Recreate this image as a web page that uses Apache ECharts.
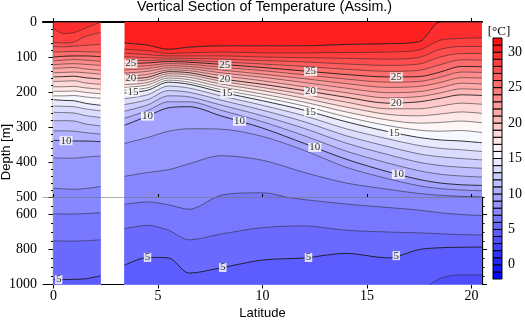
<!DOCTYPE html>
<html><head><meta charset="utf-8">
<script src="https://cdn.jsdelivr.net/npm/echarts@6/dist/echarts.min.js"></script>
<style>html,body{margin:0;padding:0;background:#fff}#c{width:525px;height:321px}</style>
</head><body><div id="c"></div>
<script>
// Latitude nodes of the section (missing data between 2.25 and 3.4)
const lats = [0, 0.5, 1, 1.5, 2.25, 3.4, 4.5, 5.5, 6.5, 8, 10, 12, 14, 16, 17.5, 18.5, 19.5, 20.5];
const gapLat = 2.8;
// Depth [m] of each isotherm at the latitude nodes
const iso30 = [0,0,0,0,0, 60,66,78,72,68,68,68,64,62,56,0,0,0];
const iso29 = [19,33,30,18,0, 78,82,90,88,86,88,88,87,86,80,52,47,45];
const iso28 = [58,60,57,42,30, 89,93,97,97,97,100,102,104,106,101,78,70,70];
const iso27 = [70,71,69,67,64, 99,102,103,104,106,110,114,120,124,120,100,90,90];
const iso26 = [86,85,84,85,86, 109,110,108,110,114,120,127,135,141,138,122,108,109];
const iso25 = [100,98,97,97,99, 119,117,113,115,121,130,140,150,157,156,143,127,128];
const iso24 = [111,109,107,109,112, 128,125,119,121,129,139,151,163,172,170,158,143,144];
const iso23 = [122,120,119,121,124, 137,133,125,127,137,149,162,176,187,184,173,159,160];
const iso22 = [133,131,130,134,138, 146,141,131,133,145,158,173,189,202,199,188,175,177];
const iso21 = [145,144,143,145,149, 155,150,137,139,153,168,185,202,217,213,203,191,193];
const iso20 = [157,156,155,159,163, 163,158,142,145,162,178,196,215,232,228,218,208,210];
const iso19 = [170,169,168,174,178, 171,165,148,151,169,187,207,229,248,248,240,232,235];
const iso18 = [185,185,184,188,192, 179,173,154,158,177,196,218,243,264,268,263,257,261];
const iso17 = [198,198,197,201,205, 187,180,160,165,185,206,229,257,280,289,287,283,288];
const iso16 = [211,211,210,214,218, 195,188,166,172,193,215,240,271,296,309,312,310,316];
const iso15 = [222,224,225,232,238, 203,195,172,178,200,225,252,285,313,330,337,340,345];
const iso14 = [240,241,242,248,254, 219,208,183,189,211,238,268,305,334,353,361,365,370];
const iso13 = [258,259,260,267,273, 236,222,196,201,223,252,285,325,356,377,385,390,394];
const iso12 = [282,282,283,291,297, 255,237,211,214,237,268,304,346,379,401,410,415,418];
const iso11 = [311,311,312,316,320, 275,253,228,228,252,285,325,369,403,425,435,440,443];
const iso10 = [338,339,340,340,342, 295,269,245,242,268,303,347,392,428,450,460,465,467];
const iso9  = [388,389,389,386,383, 347,330,312,305,306,327,367,415,448,468,476,480,482];
const iso8  = [475,477,478,476,470, 441,430,422,405,382,395,430,460,478,490,495,498,500];
const iso7  = [596,597,597,595,590, 542,528,545,570,495,488,515,540,560,575,590,600,606];
const iso6  = [750,752,752,750,745, 681,662,690,745,712,675,665,690,700,705,710,715,717];
const iso5  = [972,972,970,968,950, 890,845,848,935,905,860,848,822,848,800,790,787,786];
const iso4  = [1100,1100,1100,1100,1100, 1100,1100,1100,1100,1100,1100,1100,1100,1100,1040,965,945,946];

// Contour label latitudes
const lab25 = [3.7, 8.2, 12.3, 16.4];
const lab20 = [3.7, 8.2, 12.3, 16.4];
const lab15 = [3.8, 8.3, 12.3, 16.3];
const lab10 = [0.6, 4.5, 8.9, 12.5, 16.5];
const lab5  = [0.25, 4.5, 8.1, 12.2, 16.4];

// Axis ticks / labels
const latTicks = [0, 5, 10, 15, 20];
const depthTicksLower = [600, 800, 1000];
const cbTicks = [0, 5, 10, 15, 20, 25, 30];
const cbBounds = [-2,-1,0,1,2,3,4,5,6,7,8,9,10,11,12,13,14,15,16,17,18,19,20,21,22,23,24,25,26,27,28,29,30,31];

const isoLevels = [30,29,28,27,26,25,24,23,22,21,20,19,18,17,16,15,14,13,12,11,10,9,8,7,6,5,4];
const isoDepth = {30:iso30,29:iso29,28:iso28,27:iso27,26:iso26,25:iso25,24:iso24,23:iso23,22:iso22,21:iso21,20:iso20,19:iso19,18:iso18,17:iso17,16:iso16,15:iso15,14:iso14,13:iso13,12:iso12,11:iso11,10:iso10,9:iso9,8:iso8,7:iso7,6:iso6,5:iso5,4:iso4};
const labels = {25:lab25,20:lab20,15:lab15,10:lab10,5:lab5};

function tempColor(t){
  let r,g,b;
  if (t >= 16){ const f = Math.min(1,(t-16)/16.5); r=255; g=b=Math.round(255*(1-f)); }
  else { const f = Math.min(1,(16-t)/18); r=g=Math.round(255*(1-f)); b=255; }
  return 'rgb('+r+','+g+','+b+')';
}
function seriesData(arr){
  const out=[];
  for(let i=0;i<lats.length;i++){ out.push([lats[i], arr[i]]); if(lats[i]<gapLat && lats[i+1]>gapLat) out.push([gapLat,'-']); }
  return out;
}
function depthAt(arr, lat){
  for(let i=0;i<lats.length-1;i++){
    if(lat>=lats[i] && lat<=lats[i+1]){ const f=(lat-lats[i])/(lats[i+1]-lats[i]); return arr[i]+f*(arr[i+1]-arr[i]); }
  }
  return arr[arr.length-1];
}

const serif = '"Liberation Serif", "Times New Roman", Times, serif';
const SM = 0.3;
const series = [];
const gridAxes = [{x:0,y:0},{x:3,y:2}];
// surface cap (warmest band) in upper panel
series.push({type:'line', xAxisIndex:0, yAxisIndex:0, data:seriesData(iso30), smooth:SM, showSymbol:false, silent:true,
  lineStyle:{width:0}, areaStyle:{color:tempColor(30.5), opacity:1, origin:'start'}, z:2});
gridAxes.forEach(function(ax){
  isoLevels.forEach(function(T){
    series.push({type:'line', xAxisIndex:ax.x, yAxisIndex:ax.y, data:seriesData(isoDepth[T]), smooth:SM, showSymbol:false, silent:true,
      lineStyle:{width:0}, areaStyle:{color:tempColor(T-0.5), opacity:1, origin:'end'}, z:2});
  });
  isoLevels.forEach(function(T){
    const major = T%5===0;
    series.push({type:'line', xAxisIndex:ax.x, yAxisIndex:ax.y, data:seriesData(isoDepth[T]), smooth:SM, showSymbol:false, silent:true,
      lineStyle:{width: major?0.9:0.7, color: major?'rgba(20,20,20,0.95)':'rgba(40,40,40,0.8)'}, z:3});
  });
});
// contour labels
[25,20,15,10,5].forEach(function(T){
  const up=[], lo=[];
  labels[T].forEach(function(la){ const d=depthAt(isoDepth[T], la); (d<=500?up:lo).push([la,d]); });
  [[up,0],[lo,1]].forEach(function(p){
    if(!p[0].length) return;
    const ax=gridAxes[p[1]];
    series.push({type:'scatter', xAxisIndex:ax.x, yAxisIndex:ax.y, data:p[0], symbol:'rect', symbolSize:1, silent:true,
      itemStyle:{color:'rgba(0,0,0,0)'}, z:5,
      label:{show:true, position:'inside', formatter:String(T), fontFamily:serif, fontSize:11, color:'#000',
        backgroundColor:'#fff', padding:[0,1,-1,1], lineHeight:10}});
  });
});
// colorbar
series.push({type:'custom', xAxisIndex:4, yAxisIndex:6, silent:true, data:cbBounds.map(function(v){return [0.5,v];}),
  renderItem:function(params, api){
    const v=api.value(1); const p1=api.coord([0,v]); const p2=api.coord([1,v+1]);
    return {type:'rect', shape:{x:p1[0], y:p2[1], width:p2[0]-p1[0], height:p1[1]-p2[1]},
      style:{fill:tempColor(v+0.5), stroke:'#000', lineWidth:1}};
  }});

const plain = function(v){ return String(v); };
const black={color:'#000', width:1.2};
const lab = {fontFamily:serif, fontSize:14, color:'#000', formatter:plain};
const option = {
  animation:false,
  grid:[
    {left:43, top:22, width:439, height:175},
    {left:43, top:197, width:439, height:87.5},
    {left:493, top:38, width:11, height:241}
  ],
  xAxis:[
    {gridIndex:0, type:'value', position:'top', min:-0.5, max:20.5, axisLine:{lineStyle:black},
      axisTick:{inside:false, length:4, lineStyle:{color:'#000'}, customValues:latTicks}, axisLabel:{show:false}, splitLine:{show:false}},
    {gridIndex:0, type:'value', position:'bottom', min:-0.5, max:20.5, axisLine:{lineStyle:{color:'#000', width:2}},
      axisTick:{show:false}, axisLabel:{show:false}, splitLine:{show:false}},
    {gridIndex:1, type:'value', position:'top', min:-0.5, max:20.5, z:10, axisLine:{lineStyle:{color:'#777', width:0.6}},
      axisTick:{inside:false, length:3, lineStyle:{color:'#000'}, customValues:latTicks}, axisLabel:{show:false}, splitLine:{show:false}},
    {gridIndex:1, type:'value', position:'bottom', min:-0.5, max:20.5, axisLine:{lineStyle:black},
      axisTick:{inside:false, length:4, lineStyle:{color:'#000'}, customValues:latTicks},
      axisLabel:Object.assign({customValues:latTicks, margin:5}, lab), splitLine:{show:false}},
    {gridIndex:2, type:'value', min:0, max:1, show:false}
  ],
  yAxis:[
    {gridIndex:0, type:'value', position:'left', inverse:true, min:0, max:500, interval:100, axisLine:{show:true, lineStyle:black},
      axisTick:{length:5, lineStyle:{color:'#000'}}, minorTick:{show:true, splitNumber:5, length:2.5, lineStyle:{color:'#000'}},
      axisLabel:Object.assign({margin:6}, lab), splitLine:{show:false}},
    {gridIndex:0, type:'value', position:'right', inverse:true, min:0, max:500, interval:100, axisLine:{show:true, lineStyle:black},
      axisTick:{length:5, lineStyle:{color:'#000'}}, minorTick:{show:true, splitNumber:5, length:2.5, lineStyle:{color:'#000'}},
      axisLabel:{show:false}, splitLine:{show:false}},
    {gridIndex:1, type:'value', position:'left', inverse:true, min:500, max:1000, interval:50, axisLine:{show:true, lineStyle:black},
      axisTick:{length:5, lineStyle:{color:'#000'}, customValues:depthTicksLower},
      axisLabel:Object.assign({customValues:depthTicksLower, margin:6}, lab), splitLine:{show:false}},
    {gridIndex:1, type:'value', position:'left', inverse:true, min:500, max:1000, interval:50, axisLine:{show:false},
      axisTick:{length:2.5, lineStyle:{color:'#000'}}, axisLabel:{show:false}, splitLine:{show:false}},
    {gridIndex:1, type:'value', position:'right', inverse:true, min:500, max:1000, interval:50, axisLine:{show:true, lineStyle:black},
      axisTick:{length:5, lineStyle:{color:'#000'}, customValues:depthTicksLower}, axisLabel:{show:false}, splitLine:{show:false}},
    {gridIndex:1, type:'value', position:'right', inverse:true, min:500, max:1000, interval:50, axisLine:{show:false},
      axisTick:{length:2.5, lineStyle:{color:'#000'}}, axisLabel:{show:false}, splitLine:{show:false}},
    {gridIndex:2, type:'value', position:'right', min:-2, max:32, axisLine:{show:true, lineStyle:{color:'#000', width:1}},
      axisTick:{length:4, lineStyle:{color:'#000'}, customValues:cbTicks},
      axisLabel:Object.assign({customValues:cbTicks, margin:6}, lab), splitLine:{show:false}}
  ],
  graphic:[
    {type:'text', x:264.5, y:7.5, style:{text:'Vertical Section of Temperature (Assim.)', font:'14.3px "Liberation Sans", Arial, sans-serif', fill:'#000', textAlign:'center', textVerticalAlign:'middle'}},
    {type:'text', x:262.5, y:313.5, style:{text:'Latitude', font:'13px "Liberation Sans", Arial, sans-serif', fill:'#000', textAlign:'center', textVerticalAlign:'middle'}},
    {type:'text', x:6.5, y:152, rotation:Math.PI/2, style:{text:'Depth [m]', font:'13px "Liberation Sans", Arial, sans-serif', fill:'#000', textAlign:'center', textVerticalAlign:'middle'}},
    {type:'text', x:499, y:32, style:{text:'[°C]', font:'13px "Liberation Serif", "Times New Roman", serif', fill:'#000', textAlign:'center', textVerticalAlign:'middle'}}
  ],
  series:series
};
echarts.init(document.getElementById('c'), null, {renderer:'canvas'}).setOption(option);
</script>
</body></html>
